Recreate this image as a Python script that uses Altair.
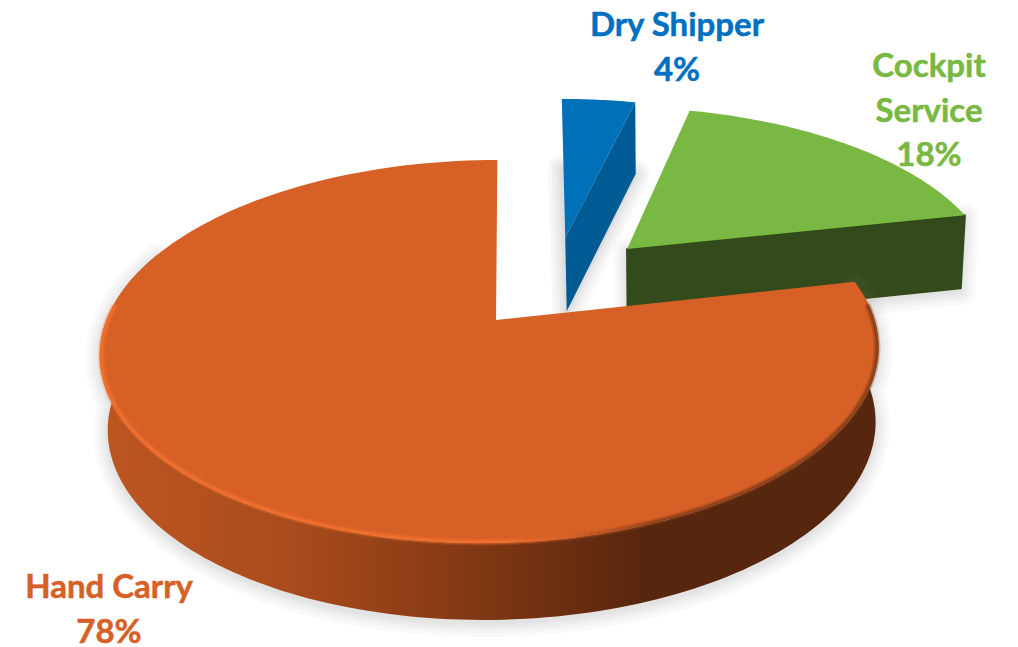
import numpy as np
import pandas as pd
import altair as alt

# ---- chart values
categories = ["Hand Carry", "Dry Shipper", "Cockpit Service"]
shares = [78.4, 3.8, 17.8]
label_lines = [["Hand Carry", "78%"], ["Dry Shipper", "4%"], ["Cockpit", "Service", "18%"]]
label_colors = ["#D66026", "#0070C0", "#78B843"]
top_colors = ["#D66026", "#0070B8", "#78B843"]
cut_colors = ["#5A280E", "#005A94", "#334A1A"]
label_pos = [(109, 588), (677, 26), (929, 67)]
line_gap = 44.5
explode_u = [0.0, 0.20, 0.371]
explode_v = [0.0, 0.4745, 0.407]

# ---- perspective of the disc
CX, CY, A, B, K, SKEW = 490.5, 320, 186.3, 384, 0.1645, 8


def project(u, v):
    f = 1 / (1 + K * v)
    return CX + B * u * f + SKEW * v * f, CY - A * v * f, f


def down(u, v):
    x, y, f = project(u, v)
    return CX + 2.5 + (x - CX) * 0.986, y + 60.2 + 14 * f


def rim(t0, t1, du=0.0, dv=0.0, n=160, fn=project, scale=1.0):
    ts = np.radians(np.linspace(t0, t1, n))
    return [fn(scale * np.sin(t) + du, scale * np.cos(t) + dv)[:2] for t in ts]


X = dict(scale=alt.Scale(domain=[8, 1010], nice=False, zero=False), axis=None)
Y = dict(scale=alt.Scale(domain=[639, 8], nice=False, zero=False), axis=None)


def poly(pts, fill=None, stroke=None, sw=0.0, op=1.0, close=True):
    if close:
        pts = list(pts) + [pts[0]]
    df = pd.DataFrame({"x": [p[0] for p in pts], "y": [p[1] for p in pts], "i": range(len(pts))})
    kw = dict(strokeWidth=sw, opacity=op, strokeJoin="round", strokeCap="round", clip=False)
    kw["stroke"] = stroke if stroke is not None else "transparent"
    if fill is not None:
        kw["fill"] = fill
    return alt.Chart(df).mark_line(**kw).encode(
        x=alt.X("x:Q", **X), y=alt.Y("y:Q", **Y), order="i:Q"
    )


def soft(pts, dy=3, widths=(28, 20, 13, 7, 3), op=0.04):
    shifted = [(p[0], p[1] + dy) for p in pts]
    return [poly(shifted, fill="#7A7A7A", stroke="#7A7A7A", sw=w, op=op) for w in widths]


# slice angles (clockwise from 12 o'clock)
blue_a = (0, 360 * shares[1] / 100)
green_a = (blue_a[1], blue_a[1] + 360 * shares[2] / 100)
orange_a = (green_a[1], 360)

layers = []

# --- Dry Shipper
du, dv = explode_u[1], explode_v[1]
apex = project(du, dv)[:2]
apex_b = down(du, dv)
edge = rim(*blue_a, du, dv, 20)
edge_b = rim(*blue_a, du, dv, 20, fn=down)
blue_cut = [apex, edge[-1], edge_b[-1], apex_b]
blue_top = [apex] + edge
layers += soft([(edge[0][0], edge[0][1] + 70), edge_b[-1], apex_b], dy=0, op=0.05)
layers += [poly(blue_cut, fill=cut_colors[1]), poly(blue_top, fill=top_colors[1])]

# --- Cockpit Service
du, dv = explode_u[2], explode_v[2]
apex = project(du, dv)[:2]
apex_b = down(du, dv)
edge = rim(*green_a, du, dv, 60)
edge_b = rim(*green_a, du, dv, 60, fn=down)
green_cut = [apex, edge[-1], edge_b[-1], apex_b]
layers += soft(green_cut)
layers += [poly(green_cut, fill=cut_colors[2], stroke=cut_colors[2], sw=2),
           poly([apex] + edge, fill=top_colors[2])]

# --- Hand Carry
apex = (496, 320)
edge = rim(*orange_a)
wall_t = rim(orange_a[0], 292)
wall_b = rim(orange_a[0], 292, fn=down)
wall = wall_t + wall_b[::-1]
layers += soft(wall)
wall_fill = alt.LinearGradient(
    gradient="linear", x1=0, x2=1, y1=0, y2=0,
    stops=[
        alt.GradientStop(offset=0.0, color="#BD5621"),
        alt.GradientStop(offset=0.25, color="#A94B1C"),
        alt.GradientStop(offset=0.5, color="#7E3613"),
        alt.GradientStop(offset=0.7, color="#57260E"),
        alt.GradientStop(offset=1.0, color="#57260E"),
    ],
)
layers.append(poly(wall, fill=wall_fill))
layers.append(poly([apex] + edge, fill=top_colors[0]))
rim_stroke = alt.LinearGradient(
    gradient="linear", x1=0, x2=1, y1=0, y2=0,
    stops=[
        alt.GradientStop(offset=0.0, color="#F6722E"),
        alt.GradientStop(offset=0.52, color="#F6722E"),
        alt.GradientStop(offset=0.6, color="#D66026"),
        alt.GradientStop(offset=0.72, color="#7A3814"),
        alt.GradientStop(offset=1.0, color="#7A3814"),
    ],
)
band = rim(orange_a[0] + 8, 274, scale=0.996)
for w, o in [(7, 0.22), (4.5, 0.35), (2.5, 0.5)]:
    layers.append(poly(band, stroke=rim_stroke, sw=w, op=o, close=False))

# --- labels
rows = []
for lines, pos, col in zip(label_lines, label_pos, label_colors):
    for j, s in enumerate(lines):
        rows.append({"t": s, "x": pos[0], "y": pos[1] + j * line_gap, "c": col})
layers.append(
    alt.Chart(pd.DataFrame(rows)).mark_text(
        font="Lato", fontWeight="bold", fontSize=33, align="center", baseline="middle",
        strokeWidth=0.5,
    ).encode(
        x=alt.X("x:Q", **X), y=alt.Y("y:Q", **Y), text="t:N",
        color=alt.Color("c:N", scale=None),
        stroke=alt.Stroke("c:N", scale=None),
    )
)

chart = alt.layer(*layers).properties(
    width=1002, height=631, padding=0, background="white"
).configure_view(stroke=None)
chart.save("out.html", embed_options={"renderer": "svg", "actions": False})
